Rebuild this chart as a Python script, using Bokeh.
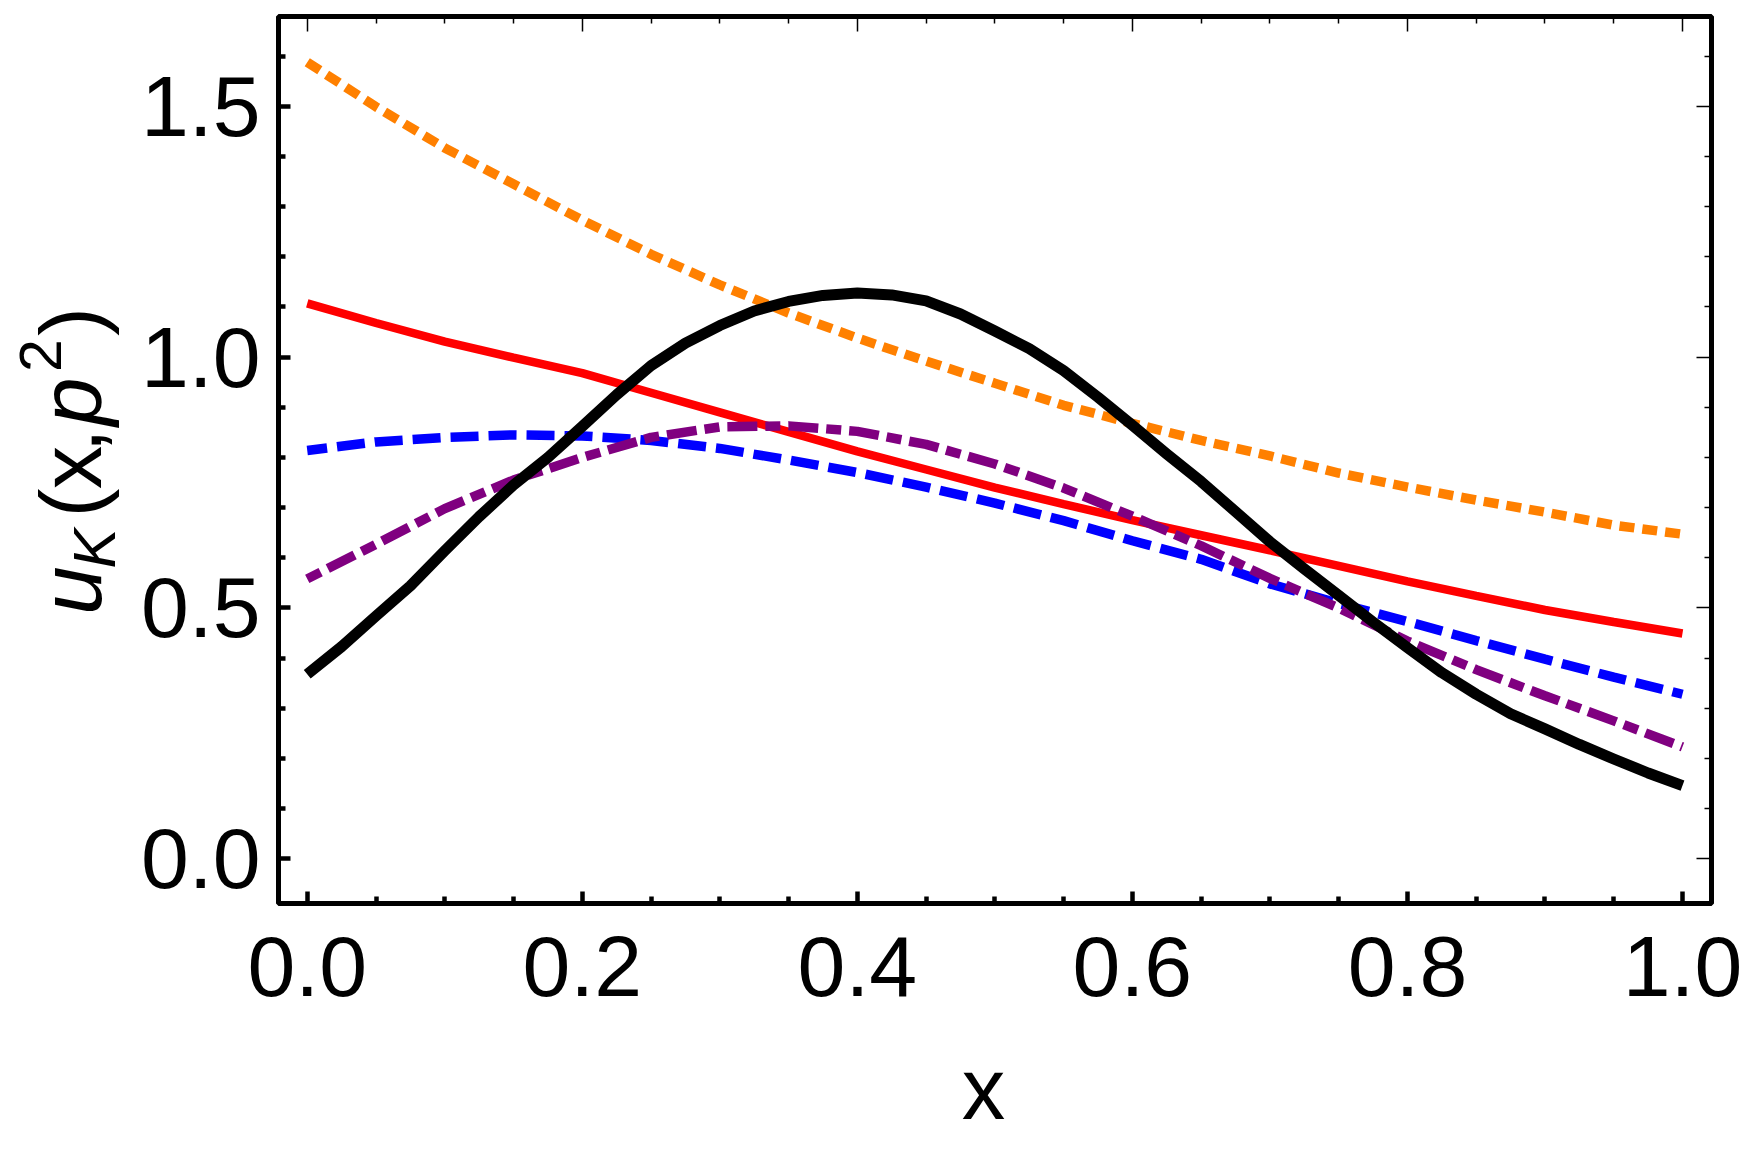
import math
from bokeh.plotting import figure
from bokeh.models import (Range1d, LinearAxis, FixedTicker, Label, PrintfTickFormatter,
                          CustomLabelingPolicy, BoxAnnotation)
from bokeh.embed import file_html
from bokeh.resources import INLINE

# ---------------- data ----------------
x_vals = [0.0, 0.05, 0.1, 0.15, 0.2, 0.25, 0.3, 0.35, 0.4, 0.45, 0.5,
          0.55, 0.6, 0.65, 0.7, 0.75, 0.8, 0.85, 0.9, 0.95, 1.0]

x_black = [0.0, 0.025, 0.05, 0.075, 0.1, 0.125, 0.15, 0.175, 0.2, 0.225, 0.25,
           0.275, 0.3, 0.325, 0.35, 0.375, 0.4, 0.425, 0.45, 0.475, 0.5,
           0.525, 0.55, 0.575, 0.6, 0.625, 0.65, 0.675, 0.7, 0.725, 0.75,
           0.775, 0.8, 0.825, 0.85, 0.875, 0.9, 0.925, 0.95, 0.975, 1.0]
u_black = [0.368, 0.423, 0.484, 0.544, 0.614, 0.682, 0.745, 0.800, 0.862, 0.925, 0.983,
           1.028, 1.063, 1.092, 1.111, 1.123, 1.128, 1.124, 1.112, 1.086, 1.052,
           1.017, 0.973, 0.920, 0.864, 0.807, 0.752, 0.692, 0.632, 0.578, 0.525,
           0.472, 0.421, 0.371, 0.328, 0.289, 0.259, 0.228, 0.199, 0.171, 0.146]
u_red = [1.107, 1.068, 1.031, 0.999, 0.968, 0.929, 0.890, 0.851, 0.812, 0.776, 0.740,
         0.707, 0.675, 0.645, 0.615, 0.584, 0.553, 0.524, 0.496, 0.472, 0.449]
u_blue = [0.814, 0.831, 0.840, 0.845, 0.843, 0.834, 0.818, 0.795, 0.770, 0.741, 0.709,
          0.674, 0.634, 0.597, 0.548, 0.509, 0.473, 0.435, 0.398, 0.362, 0.328]
u_purple = [0.558, 0.627, 0.698, 0.755, 0.800, 0.840, 0.861, 0.863, 0.852, 0.826, 0.787,
            0.739, 0.683, 0.624, 0.559, 0.500, 0.434, 0.377, 0.325, 0.275, 0.223]
u_orange = [1.588, 1.499, 1.417, 1.345, 1.273, 1.205, 1.144, 1.088, 1.038, 0.992, 0.948,
            0.904, 0.868, 0.834, 0.803, 0.769, 0.741, 0.715, 0.691, 0.665, 0.647]

x_major_ticks = [0.0, 0.2, 0.4, 0.6, 0.8, 1.0]
x_minor_ticks = [0.05, 0.1, 0.15, 0.25, 0.3, 0.35, 0.45, 0.5, 0.55,
                 0.65, 0.7, 0.75, 0.85, 0.9, 0.95]
y_major_ticks = [0.0, 0.5, 1.0, 1.5]
y_minor_ticks = [0.1, 0.2, 0.3, 0.4, 0.6, 0.7, 0.8, 0.9, 1.1, 1.2, 1.3, 1.4, 1.6]

x_label = "x"
# y title u_K(x,p^2): (text, italic?, size px, box-centre x, box-centre y) in canvas px
y_title_parts = [("u", True, 87, 70, 590), ("K", True, 60, 94, 548),
                 ("(", False, 87, 70, 502.5), ("x", False, 87, 70, 467),
                 (",", False, 87, 70, 440), ("p", True, 87, 70, 401),
                 ("2", False, 59, 39.5, 355), (")", False, 87, 70, 321)]
FONT = "Liberation Sans"

# ---------------- geometry ----------------
W, H = 1760, 1150
BX0, BX1 = -0.0209, 1.0211        # plot box in data units
BY0, BY1 = -0.0891, 1.679
BL, BT, BW, BH = 278, 16, 1433, 887   # plot box in canvas px
SX = BW / (BX1 - BX0)
SY = BH / (BY1 - BY0)

# the frame fills the whole canvas; the plot box and its axes sit inside it
p = figure(width=W, height=H,
           x_range=Range1d(BX0 - BL / SX, BX1 + (W - BL - BW) / SX),
           y_range=Range1d(BY0 - (H - BT - BH) / SY, BY1 + BT / SY),
           output_backend="svg", toolbar_location=None, min_border=0,
           x_axis_location=None, y_axis_location=None)
p.background_fill_color = "white"
p.border_fill_color = "white"
p.outline_line_color = None
p.grid.visible = False

xt = FixedTicker(ticks=x_major_ticks, minor_ticks=x_minor_ticks)
yt = FixedTicker(ticks=y_major_ticks, minor_ticks=y_minor_ticks)

HIDE_ALL = """
const keep = [...indices]
for (const i of keep) indices.unset(i)
return indices
"""


def make_axis(ticker, loc, w, major_in, minor_in, show):
    ax = LinearAxis(ticker=ticker, fixed_location=loc)
    ax.formatter = PrintfTickFormatter(format="%.1f")
    ax.axis_line_color = None
    ax.major_tick_in = major_in
    ax.major_tick_out = 0
    ax.minor_tick_in = minor_in
    ax.minor_tick_out = 0
    ax.major_tick_line_color = "black"
    ax.minor_tick_line_color = "black"
    ax.major_tick_line_width = w
    ax.minor_tick_line_width = w
    if show:
        ax.major_label_text_font = FONT
        ax.major_label_text_font_size = "86px"
        ax.major_label_text_color = "black"
    else:
        ax.major_label_policy = CustomLabelingPolicy(code=HIDE_ALL)
        ax.major_label_text_font_size = "2px"
        ax.major_label_standoff = 0
    return ax


bottom_ax = make_axis(xt, BY0, 4.5, 12, 7, True)
bottom_ax.major_label_standoff = 33
left_ax = make_axis(yt, BX0, 4.5, 12, 7, True)
left_ax.major_label_standoff = 18
top_ax = make_axis(xt, BY1, 1.5, 15, 7, False)
right_ax = make_axis(yt, BX1, 1.5, 15, 7, False)
p.add_layout(bottom_ax, "below")
p.add_layout(left_ax, "left")
p.add_layout(top_ax, "above")
p.add_layout(right_ax, "right")

# plot box
p.add_layout(BoxAnnotation(left=BX0, right=BX1, bottom=BY0, top=BY1,
                           fill_alpha=0, fill_color=None,
                           line_color="black", line_alpha=1.0, line_width=5))

# ---------------- curves ----------------
p.line(x_vals, u_red, line_color="#FF0000", line_width=8.5)
p.line(x_vals, u_blue, line_color="#0000FF", line_width=9.5, line_dash="28 10", line_dash_offset=8)
p.line(x_vals, u_purple, line_color="#800080", line_width=9.5, line_dash="15 8 30 8")
p.line(x_vals, u_orange, line_color="#FF8000", line_width=9.5, line_dash="15 8")
p.line(x_black, u_black, line_color="black", line_width=11, line_join="round")


# ---------------- axis titles (screen px, y measured from the bottom) ----------------
def add_text(text, cx, cy, size, italic=False, angle=0.0):
    p.add_layout(Label(x=cx, y=H - cy, x_units="screen", y_units="screen",
                       text=text, angle=angle, text_align="center",
                       text_baseline="middle", text_font=FONT,
                       text_font_size=f"{size}px",
                       text_font_style="italic" if italic else "normal",
                       text_color="black"))


add_text(x_label, 983, 1088, 87)
for text, italic, size, cx, cy in y_title_parts:
    add_text(text, cx, cy, size, italic=italic, angle=math.pi / 2)

open("out.html", "w").write(file_html(p, INLINE))
